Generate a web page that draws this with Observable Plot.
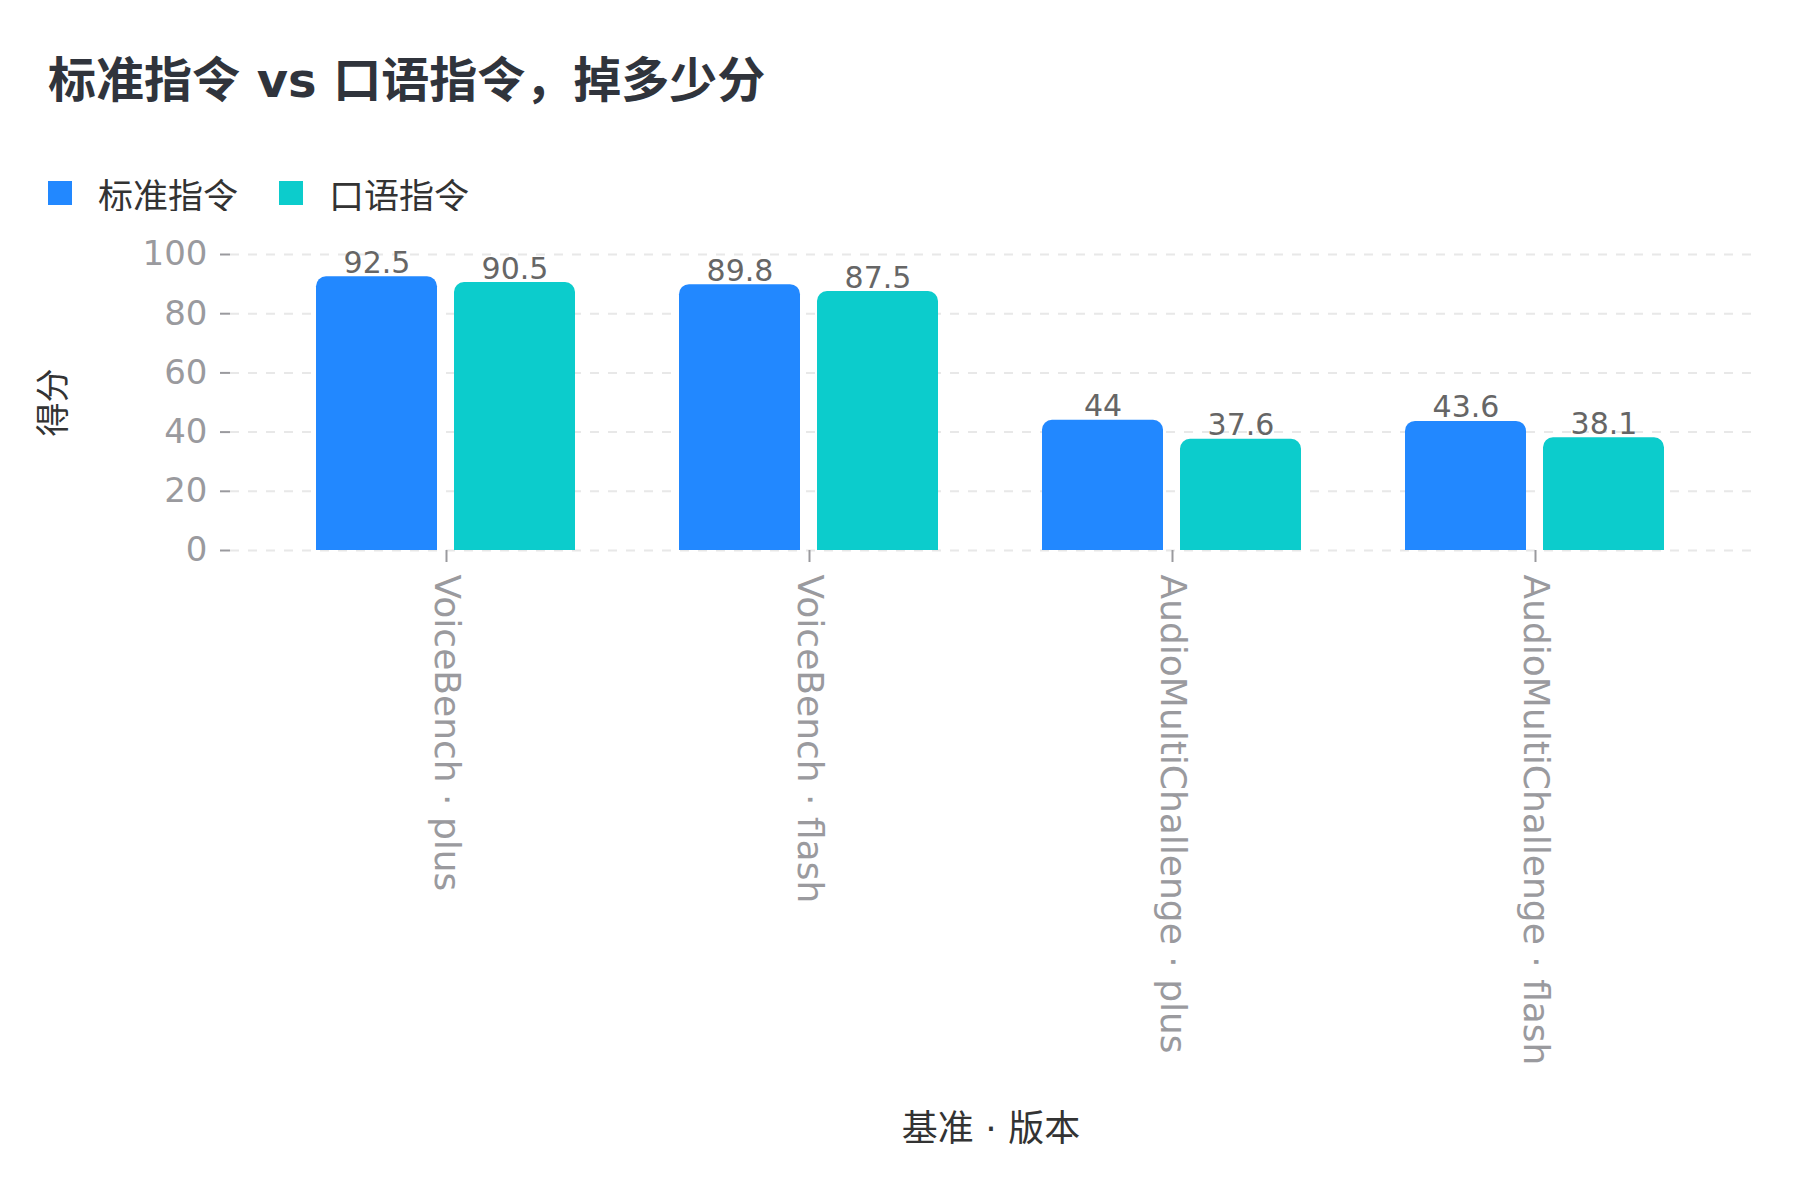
<!DOCTYPE html>
<html>
<head>
<meta charset="utf-8">
<script src="https://cdn.jsdelivr.net/npm/d3@7"></script>
<script src="https://cdn.jsdelivr.net/npm/@observablehq/plot@0.6"></script>
<style>
  html, body { margin: 0; padding: 0; background: #fff; }
  body { width: 1800px; height: 1200px; overflow: hidden; font-family: "DejaVu Sans", "Noto Sans CJK SC", sans-serif; }
  #title { margin: 56px 0 0 48px; height: 48px; line-height: 48px; font-size: 48px; font-weight: bold; color: #30343c; white-space: nowrap; }
  #legend { margin: 71px 0 0 48px; height: 36px; display: flex; align-items: center; font-size: 35px; color: #333; }
  .item { display: flex; align-items: center; margin-right: 41px; }
  .sw { width: 24px; height: 24px; margin-right: 26px; }
  #chart { position: relative; width: 1800px; height: 987px; }
  #chart svg { display: block; position: absolute; left: 0; top: 0; }
  g[aria-label="y-axis label"], g[aria-label="fx-axis label"] { fill: #333 !important; }
</style>
</head>
<body>
<div id="title"></div>
<div id="legend"></div>
<div id="chart"></div>
<script>
const titleText = "标准指令 vs 口语指令，掉多少分";
const categories = ["VoiceBench · plus", "VoiceBench · flash", "AudioMultiChallenge · plus", "AudioMultiChallenge · flash"];
const seriesNames = ["标准指令", "口语指令"];
const standardValues = [92.5, 89.8, 44, 43.6];
const spokenValues = [90.5, 87.5, 37.6, 38.1];
const colors = ["#2288ff", "#0ccccc"];
const yTicks = [0, 20, 40, 60, 80, 100];
const xLabel = "基准 · 版本";
const yLabel = "得分";

document.getElementById("title").textContent = titleText;
const legend = document.getElementById("legend");
seriesNames.forEach((s, i) => {
  const it = document.createElement("div");
  it.className = "item";
  const sw = document.createElement("div");
  sw.className = "sw";
  sw.style.background = colors[i];
  const t = document.createElement("span");
  t.textContent = s;
  it.appendChild(sw); it.appendChild(t);
  legend.appendChild(it);
});

const rows = [];
categories.forEach((c, i) => {
  rows.push({category: c, series: seriesNames[0], value: standardValues[i]});
  rows.push({category: c, series: seriesNames[1], value: spokenValues[i]});
});

const common = {
  width: 1800,
  height: 987,
  marginTop: 43,
  marginRight: 49,
  marginBottom: 648,
  marginLeft: 230
};
const fontFamily = '"DejaVu Sans", "Noto Sans CJK SC", sans-serif';

// Background layer: grid + y axis spanning the full frame
const back = Plot.plot({
  ...common,
  style: {fontFamily, fontSize: "34px", background: "#fff"},
  y: {domain: [0, 100], axis: null},
  marks: [
    Plot.ruleY(yTicks, {stroke: "#e8e8e8", strokeWidth: 2, strokeDasharray: "9,9"}),
    Plot.axisY({ticks: yTicks, tickSize: 10, tickPadding: 13, strokeWidth: 2, label: yLabel, labelArrow: false, labelAnchor: "center", labelOffset: 190, color: "#9a9a9e"})
  ]
});

// Foreground layer: grouped bars by facet
const front = Plot.plot({
  ...common,
  style: {fontFamily, fontSize: "34px", background: "transparent"},
  fx: {domain: categories, paddingInner: 0.19, paddingOuter: 0.19},
  x: {domain: seriesNames, padding: 0.12, axis: null},
  y: {domain: [0, 100], axis: null},
  color: {domain: seriesNames, range: colors},
  marks: [
    Plot.axisFx({anchor: "bottom", tickRotate: 90, tickSize: 12, tickPadding: 12, strokeWidth: 2, fontSize: 36, label: xLabel, labelArrow: false, labelAnchor: "center", labelOffset: 590, color: "#9a9a9e"}),
    Plot.barY(rows, {fx: "category", x: "series", y: "value", fill: "series", ry1: 10}),
    Plot.text(rows, {fx: "category", x: "series", y: "value", text: d => String(d.value), lineAnchor: "bottom", dy: -4, fill: "#666", fontSize: 30})
  ]
});
const chartDiv = document.getElementById("chart");
chartDiv.appendChild(back);
chartDiv.appendChild(front);
</script>
</body>
</html>
